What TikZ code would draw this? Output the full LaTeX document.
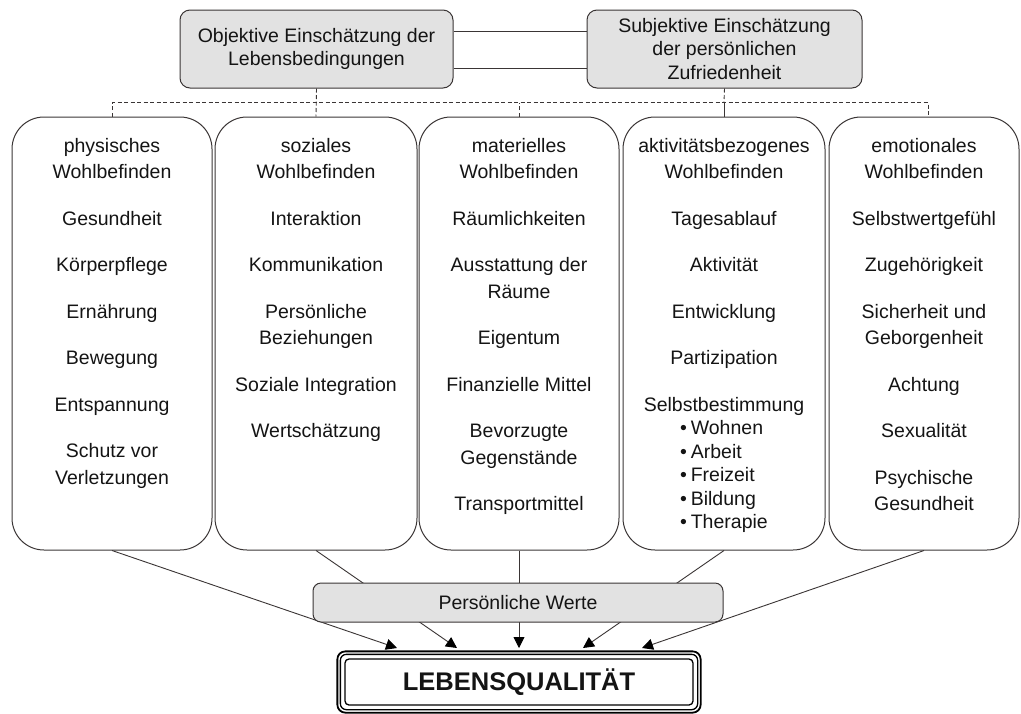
\documentclass[tikz,border=0pt]{standalone}
\usepackage{fontspec}
\setmainfont{Liberation Sans}
\usetikzlibrary{arrows.meta}
\definecolor{linec}{HTML}{3A3535}
\definecolor{boxfill}{HTML}{E2E2E2}
\definecolor{txt}{HTML}{141414}
\newcommand\areagap{\\[20pt]}
\newcommand\bul[1]{\makebox[88pt][l]{\textbullet\hspace{4pt}#1}}

\begin{document}
\begin{tikzpicture}[x=1pt,y=-1pt,
  every node/.style={text=txt, font=\fontsize{19.5}{26.5}\selectfont},
  headbox/.style={draw=linec, line width=1pt, fill=boxfill, rounded corners=10pt,
    align=center, inner sep=0pt, font=\fontsize{19.5}{23.5}\selectfont},
  areabox/.style={draw=linec, line width=1pt, rounded corners=32pt, inner sep=0pt,
    minimum height=433pt},
  arealist/.style={align=center, anchor=north, inner sep=0pt},
  tie/.style={draw=linec, line width=0.9pt},
  dashlink/.style={draw=linec, line width=0.9pt, dash pattern=on 4pt off 2.5pt},
  flow/.style={draw=linec, line width=0.9pt,
    -{Triangle[length=11pt,width=11pt,color=black,fill=black]}},
]
\useasboundingbox (0,0) rectangle (1021,713);

% the two kinds of assessment
\node[headbox, minimum width=273pt, minimum height=78pt] (obj) at (316.5,49)
  {Objektive Einschätzung der\\Lebensbedingungen};
\node[headbox, minimum width=275pt, minimum height=78pt] (subj) at (724.5,49)
  {Subjektive Einschätzung\\der persönlichen\\Zufriedenheit};
\draw[tie] ([yshift=18pt]obj.east) -- ([yshift=18pt]subj.west);
\draw[tie] ([yshift=-19pt]obj.east) -- ([yshift=-19pt]subj.west);

% the five areas of well-being
\node[areabox, minimum width=200pt] (phys) at (112,333.5) {};
\node[areabox, minimum width=202pt] (soz)  at (316,333.5) {};
\node[areabox, minimum width=200pt] (mat)  at (519,333.5) {};
\node[areabox, minimum width=202pt] (akt)  at (724,333.5) {};
\node[areabox, minimum width=190pt] (emo)  at (924,333.5) {};

% dashed rail linking the assessments to the areas
\draw[dashlink] (phys.north) -- ++(0,-14) -| ([xshift=4pt]emo.north);
\draw[dashlink] (obj.south) -- (soz.north);
\draw[dashlink] (mat.north) -- ++(0,-14);
\draw[dashlink] (subj.south) -- ([yshift=14pt]akt.north);
\draw[tie] ([yshift=14pt]akt.north) -- (akt.north);

% contents of the areas
\node[arealist] (physT) at (112,138) {physisches\\Wohlbefinden\areagap Gesundheit\areagap
  Körperpflege\areagap Ernährung\areagap Bewegung\areagap Entspannung\areagap
  Schutz vor\\Verletzungen};
\node[arealist] (sozT) at (316,138) {soziales\\Wohlbefinden\areagap Interaktion\areagap
  Kommunikation\areagap Persönliche\\Beziehungen\areagap Soziale Integration\areagap
  Wertschätzung};
\node[arealist] (matT) at (519,138) {materielles\\Wohlbefinden\areagap Räumlichkeiten\areagap
  Ausstattung der\\Räume\areagap Eigentum\areagap Finanzielle Mittel\areagap
  Bevorzugte\\Gegenstände\areagap Transportmittel};
\node[arealist] (aktT) at (724,138) {aktivitätsbezogenes\\Wohlbefinden\areagap Tagesablauf\areagap
  Aktivität\areagap Entwicklung\areagap Partizipation\areagap
  Selbstbestimmung\\[-3pt]\bul{Wohnen}\\[-3pt]\bul{Arbeit}\\[-3pt]\bul{Freizeit}\\[-3pt]%
  \bul{Bildung}\\[-3pt]\bul{Therapie}};
\node[arealist] (emoT) at (924,138) {emotionales\\Wohlbefinden\areagap Selbstwertgefühl\areagap
  Zugehörigkeit\areagap Sicherheit und\\Geborgenheit\areagap Achtung\areagap
  Sexualität\areagap Psychische\\Gesundheit};

% quality of life
\node[draw=black, line width=1.3pt, rounded corners=4pt, minimum width=348pt,
  minimum height=46pt, font=\bfseries\fontsize{25.5}{30}\selectfont] (lq) at (519,682)
  {LEBENSQUALITÄT};
\draw[black, line width=1.3pt, rounded corners=6pt]
  ([shift={(-4pt,-4pt)}]lq.south west) rectangle ([shift={(4pt,4pt)}]lq.north east);
\draw[black, line width=1.8pt, rounded corners=8pt]
  ([shift={(-7pt,-7pt)}]lq.south west) rectangle ([shift={(7pt,7pt)}]lq.north east);

\coordinate (a1) at (397,648);
\coordinate (a2) at (457,648);
\coordinate (a3) at (519,648);
\coordinate (a4) at (583,648);
\coordinate (a5) at (642,648);
\draw[flow] (phys.south) -- (a1);
\draw[flow] (soz.south) -- (a2);
\draw[flow] (mat.south) -- (a3);
\draw[flow] (akt.south) -- (a4);
\draw[flow] (emo.south) -- (a5);

% personal values lie across the arrows
\node[headbox, rounded corners=8pt, minimum width=410pt, minimum height=39pt] (werte)
  at (518,602.5) {Persönliche Werte};
\end{tikzpicture}
\end{document}
